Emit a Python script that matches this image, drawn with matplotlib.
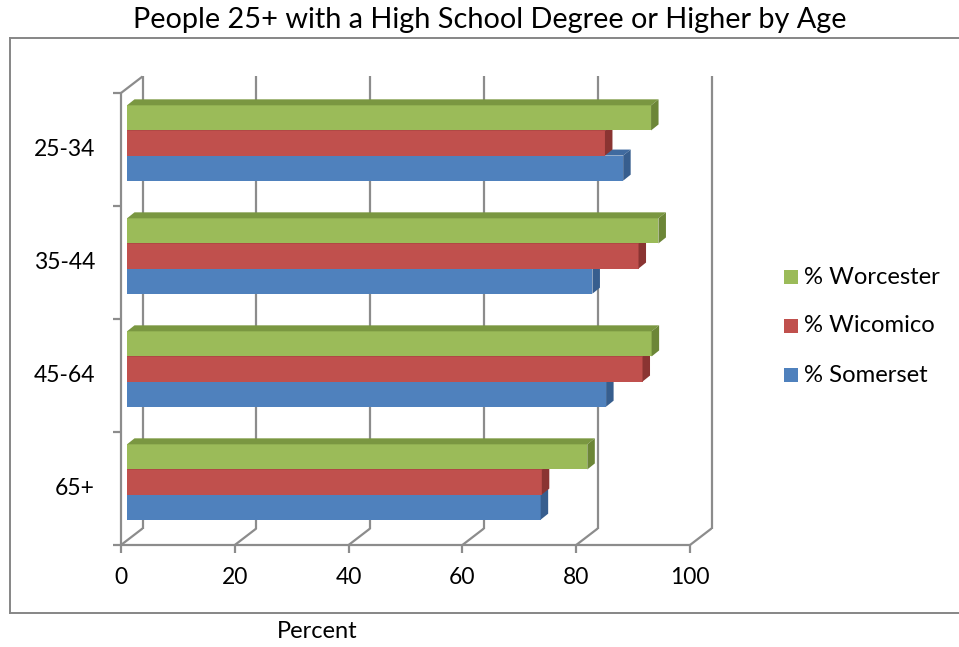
import matplotlib
matplotlib.use("Agg")
import matplotlib.pyplot as plt
from matplotlib.patches import Polygon, Rectangle
from matplotlib.lines import Line2D

plt.rcParams['font.family'] = ['Lato', 'DejaVu Sans']

# ---- data -------------------------------------------------------------
categories = ['25-34', '35-44', '45-64', '65+']
series_names = ['% Worcester', '% Wicomico', '% Somerset']
worcester = [92.1, 93.4, 92.2, 80.9]
wicomico = [84.0, 89.9, 90.6, 72.9]
somerset = [87.2, 81.8, 84.2, 72.7]
x_ticks = [0, 20, 40, 60, 80, 100]
title = 'People 25+ with a High School Degree or Higher by Age'
x_label = 'Percent'

# ---- styling ----------------------------------------------------------
W, H = 959, 647
face = {'green': '#9BBB59', 'red': '#C0504D', 'blue': '#4F81BD'}
top = {'green': '#7A9741', 'red': '#9E3F3C', 'blue': '#3F6A9F'}
side = {'green': '#6C8637', 'red': '#8A3432', 'blue': '#375E8E'}
grid_c = '#8C8C8C'

fig = plt.figure(figsize=(W / 100, H / 100), dpi=100)
# front plane of the 3-D box: x 0..100 -> px 121..690, y 0..4 -> px 545..93
L, R, B, T = 121, 690, 545, 93
ax = fig.add_axes([L / W, 1 - B / H, (R - L) / W, (B - T) / H])
ax.set_xlim(0, 100)
ax.set_ylim(0, 4)
ax.axis('off')

ux = 100 / (R - L)      # data units per pixel, x
uy = 4 / (B - T)        # data units per pixel, y

# depth offsets (pixels): back wall, bar front, bar depth
wall_dx, wall_dy = 21.5 * ux, 16.5 * uy
bar_dx, bar_dy = 6 * ux, 6.5 * uy
dep_dx, dep_dy = 7.5 * ux, 6 * uy

lw = 1.6
kw = dict(color=grid_c, lw=lw, clip_on=False, solid_capstyle='butt')

# back-wall gridlines and floor diagonals
for xv in x_ticks:
    ax.plot([xv + wall_dx, xv + wall_dx], [wall_dy, 4 + wall_dy], **kw)
    ax.plot([xv, xv + wall_dx], [0, wall_dy], **kw)
    ax.plot([xv, xv], [0, -8 * uy], **kw)
# floor front edge
ax.plot([0, 100], [0, 0], **kw)
# left axis and wall top edge
ax.plot([0, 0], [0, 4], **kw)
ax.plot([0, wall_dx], [4, 4 + wall_dy], **kw)
for yv in range(5):
    ax.plot([-8 * ux, 0], [yv, yv], **kw)

# ---- bars -------------------------------------------------------------
bw = 1 / 4.5
stack = [('blue', somerset), ('red', wicomico), ('green', worcester)]
for i, cat in enumerate(categories):
    band = 3 - i
    center = band + 0.5
    for k, (cname, vals) in enumerate(stack):
        v = vals[i]
        y0 = center - 1.5 * bw + k * bw + bar_dy
        y1 = y0 + bw
        x0 = bar_dx
        x1 = bar_dx + v
        ax.barh(y0, v, left=x0, height=bw, align='edge',
                color=face[cname], edgecolor='none', zorder=3)
        ax.add_patch(Polygon([(x0, y1), (x1, y1), (x1 + dep_dx, y1 + dep_dy),
                              (x0 + dep_dx, y1 + dep_dy)], closed=True,
                             facecolor=top[cname], edgecolor='none', zorder=3))
        ax.add_patch(Polygon([(x1, y0), (x1, y1), (x1 + dep_dx, y1 + dep_dy),
                              (x1 + dep_dx, y0 + dep_dy)], closed=True,
                             facecolor=side[cname], edgecolor='none', zorder=3))
    ax.text(-26 * ux, center, cat, ha='right', va='center', fontsize=16.5,
            color='black')

# x tick labels
for xv in x_ticks:
    ax.text(xv, -33 * uy, str(xv), ha='center', va='center', fontsize=16.5,
            color='black')

# ---- title, axis label, legend, frame ---------------------------------
fig.text(490 / W, 1 - 20 / H, title, ha='center', va='center', fontsize=20.8)
fig.text(317 / W, 1 - 632 / H, x_label, ha='center', va='center', fontsize=17)

leg_y = [277, 326, 375]
leg_c = ['green', 'red', 'blue']
for name, yy, cname in zip(series_names, leg_y, leg_c):
    fig.add_artist(Rectangle((784 / W, 1 - (yy + 7) / H), 14 / W, 14 / H,
                             transform=fig.transFigure, facecolor=face[cname],
                             edgecolor='none'))
    fig.text(804 / W, 1 - yy / H, name, ha='left', va='center', fontsize=17.2)

fcol = '#868686'
fig.add_artist(Line2D([10 / W, 10 / W], [1 - 38 / H, 1 - 613 / H],
                      transform=fig.transFigure, color=fcol, lw=1.4))
fig.add_artist(Line2D([10 / W, 1.0], [1 - 38 / H, 1 - 38 / H],
                      transform=fig.transFigure, color=fcol, lw=1.4))
fig.add_artist(Line2D([10 / W, 1.0], [1 - 613 / H, 1 - 613 / H],
                      transform=fig.transFigure, color=fcol, lw=1.4))

fig.savefig('out.png', dpi=100)
